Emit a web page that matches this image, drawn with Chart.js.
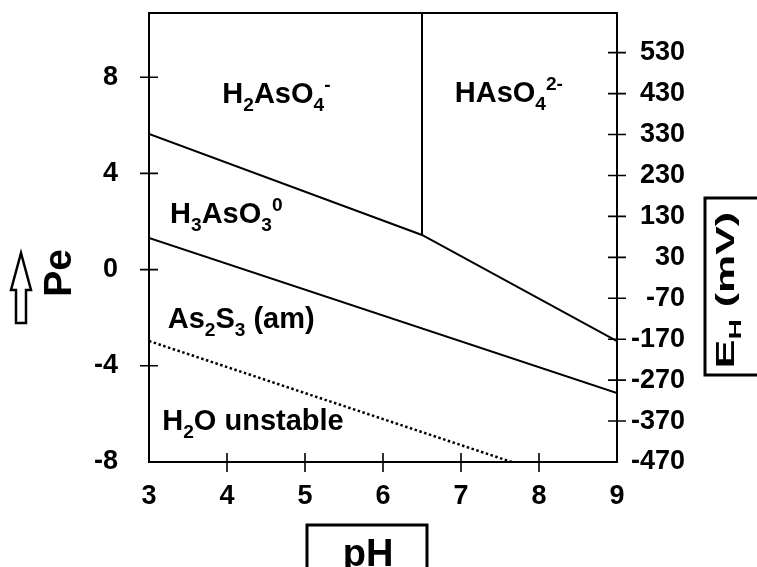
<!DOCTYPE html>
<html>
<head>
<meta charset="utf-8">
<script src="https://cdn.jsdelivr.net/npm/chart.js@4/dist/chart.umd.min.js"></script>
<style>
  html, body { margin: 0; padding: 0; background: #fff; }
  canvas { display: block; }
</style>
</head>
<body>
<canvas id="myChart" width="757" height="567"></canvas>
<script>
// axis ticks
const phTicks = [3, 4, 5, 6, 7, 8, 9];
const peTicks = [-8, -4, 0, 4, 8];
const ehTicks = [-470, -370, -270, -170, -70, 30, 130, 230, 330, 430, 530];

const PE_MIN = -8, PE_MAX = 10.67;
const MV_PER_PE = 58.75; // right axis: -8 pe <-> -470 mV

// boundaries (pH, pe)
const arsenateLine = [{ x: 3, y: 5.64 }, { x: 6.5, y: 1.44 }, { x: 9, y: -2.97 }];
const pkaLine = [{ x: 6.5, y: 1.44 }, { x: 6.5, y: PE_MAX }];
const sulfideLine = [{ x: 3, y: 1.32 }, { x: 9, y: -5.13 }];
const waterLine = [{ x: 3, y: -2.97 }, { x: 7.65, y: -8 }];

// field labels, anchored at (pH, pe) : left edge / baseline
const fieldLabels = [
  { x: 3.94, y: 6.93, parts: [["H", ""], ["2", "sub"], ["AsO", ""], ["4", "sub"], ["-", "sup"]] },
  { x: 6.92, y: 6.97, parts: [["HAsO", ""], ["4", "sub"], ["2-", "sup"]] },
  { x: 3.27, y: 1.94, parts: [["H", ""], ["3", "sub"], ["AsO", ""], ["3", "sub"], ["0", "sup"]] },
  { x: 3.24, y: -2.43, parts: [["As", ""], ["2", "sub"], ["S", ""], ["3", "sub"], [" (am)", ""]] },
  { x: 3.17, y: -6.67, parts: [["H", ""], ["2", "sub"], ["O unstable", ""]] }
];

const FONT = '"Liberation Sans", Arial, sans-serif';

function drawRich(ctx, parts, x, y, size) {
  ctx.textAlign = "left";
  ctx.textBaseline = "alphabetic";
  let cx = x;
  parts.forEach(([t, mode]) => {
    let s = size, dy = 0;
    if (mode === "sub") { s = size * 0.66; dy = size * 0.28; }
    if (mode === "sup") { s = size * 0.66; dy = -size * 0.42; }
    ctx.font = "bold " + s + "px " + FONT;
    ctx.fillText(t, cx, y + dy);
    cx += ctx.measureText(t).width;
  });
  return cx - x;
}

function richWidth(ctx, parts, size) {
  let w = 0;
  parts.forEach(([t, mode]) => {
    const s = mode ? size * 0.66 : size;
    ctx.font = "bold " + s + "px " + FONT;
    w += ctx.measureText(t).width;
  });
  return w;
}

const decorPlugin = {
  id: "decor",
  afterDraw(chart) {
    const ctx = chart.ctx;
    const a = chart.chartArea;
    const xs = chart.scales.x, ys = chart.scales.y, ys2 = chart.scales.y2;
    ctx.save();
    ctx.strokeStyle = "#000";
    ctx.fillStyle = "#000";

    // frame
    ctx.lineWidth = 2;
    ctx.strokeRect(a.left, a.top, a.right - a.left, a.bottom - a.top);

    // crossing tick marks
    ctx.lineWidth = 1.6;
    ctx.beginPath();
    peTicks.forEach(v => {
      if (v === PE_MIN) return;
      const py = ys.getPixelForValue(v);
      ctx.moveTo(a.left - 9, py); ctx.lineTo(a.left + 9, py);
    });
    ehTicks.forEach(v => {
      if (v === ehTicks[0]) return;
      const py = ys2.getPixelForValue(v);
      ctx.moveTo(a.right - 9, py); ctx.lineTo(a.right + 9, py);
    });
    phTicks.forEach(v => {
      if (v === phTicks[0] || v === phTicks[phTicks.length - 1]) return;
      const px = xs.getPixelForValue(v);
      ctx.moveTo(px, a.bottom - 9); ctx.lineTo(px, a.bottom + 10);
    });
    ctx.stroke();

    // field labels
    fieldLabels.forEach(l => {
      drawRich(ctx, l.parts, xs.getPixelForValue(l.x), ys.getPixelForValue(l.y), 29);
    });

    // x title: pH in a box
    ctx.lineWidth = 3;
    ctx.beginPath();
    ctx.moveTo(307, 570); ctx.lineTo(307, 525); ctx.lineTo(427, 525); ctx.lineTo(427, 570);
    ctx.stroke();
    ctx.font = "bold 38px " + FONT;
    ctx.textAlign = "center";
    ctx.textBaseline = "alphabetic";
    ctx.fillText("pH", 368, 566);

    // y title: Pe with hollow arrow
    ctx.save();
    ctx.translate(71, 273);
    ctx.rotate(-Math.PI / 2);
    ctx.font = "bold 39px " + FONT;
    ctx.textAlign = "center";
    ctx.fillText("Pe", 0, 0);
    ctx.restore();
    ctx.lineWidth = 2.5;
    ctx.beginPath();
    ctx.moveTo(21, 253);
    ctx.lineTo(31, 290);
    ctx.lineTo(26, 290);
    ctx.lineTo(26, 323);
    ctx.lineTo(16, 323);
    ctx.lineTo(16, 290);
    ctx.lineTo(11, 290);
    ctx.closePath();
    ctx.stroke();

    // right title: EH (mV) in a box (stretched along its length, as in the original)
    ctx.lineWidth = 3;
    ctx.beginPath();
    ctx.moveTo(760, 198); ctx.lineTo(705, 198); ctx.lineTo(705, 375); ctx.lineTo(760, 375);
    ctx.stroke();
    ctx.save();
    ctx.translate(734, 290);
    ctx.rotate(-Math.PI / 2);
    ctx.scale(1.65, 1);
    const eh = [["E", ""], ["H", "sub"], [" (mV)", ""]];
    const w = richWidth(ctx, eh, 26);
    drawRich(ctx, eh, -w / 2, 0, 26);
    ctx.restore();

    ctx.restore();
  }
};

const lineStyle = {
  showLine: true,
  borderColor: "#000",
  borderWidth: 2,
  pointRadius: 0,
  fill: false,
  tension: 0
};

const tickFont = { family: FONT, size: 27, weight: "bold" };

function noPadV(s, w) { s.width = w; s.paddingTop = 0; s.paddingBottom = 0; }

const config = {
  type: "scatter",
  data: {
    datasets: [
      Object.assign({ label: "H2AsO4/HAsO4 - H3AsO3", data: arsenateLine }, lineStyle),
      Object.assign({ label: "pKa", data: pkaLine }, lineStyle),
      Object.assign({ label: "H3AsO3 - As2S3", data: sulfideLine }, lineStyle),
      Object.assign({ label: "H2O", data: waterLine }, lineStyle, { borderDash: [2.5, 2.5], borderWidth: 2.5 })
    ]
  },
  options: {
    responsive: false,
    animation: false,
    layout: { padding: { top: 13, left: 0, right: 72, bottom: 0 } },
    plugins: { legend: { display: false }, tooltip: { enabled: false } },
    scales: {
      x: {
        type: "linear",
        min: 3, max: 9,
        afterBuildTicks: s => { s.ticks = phTicks.map(v => ({ value: v })); },
        afterFit: s => { s.height = 105; s.paddingLeft = 0; s.paddingRight = 0; },
        grid: { display: false },
        border: { display: false },
        ticks: { color: "#000", font: tickFont, padding: 10 }
      },
      y: {
        type: "linear",
        position: "left",
        min: PE_MIN, max: PE_MAX,
        afterBuildTicks: s => { s.ticks = peTicks.map(v => ({ value: v })); },
        afterFit: s => noPadV(s, 149),
        grid: { display: false },
        border: { display: false },
        ticks: { color: "#000", font: tickFont, padding: 23 }
      },
      y2: {
        type: "linear",
        position: "right",
        min: PE_MIN * MV_PER_PE, max: PE_MAX * MV_PER_PE,
        afterBuildTicks: s => { s.ticks = ehTicks.map(v => ({ value: v })); },
        afterFit: s => noPadV(s, 68),
        grid: { display: false },
        border: { display: false },
        ticks: { color: "#000", font: tickFont, padding: 13, crossAlign: "far" }
      }
    }
  },
  plugins: [decorPlugin]
};

const context = document.getElementById("myChart").getContext("2d");
const chart = new Chart(context, config);
</script>
</body>
</html>
